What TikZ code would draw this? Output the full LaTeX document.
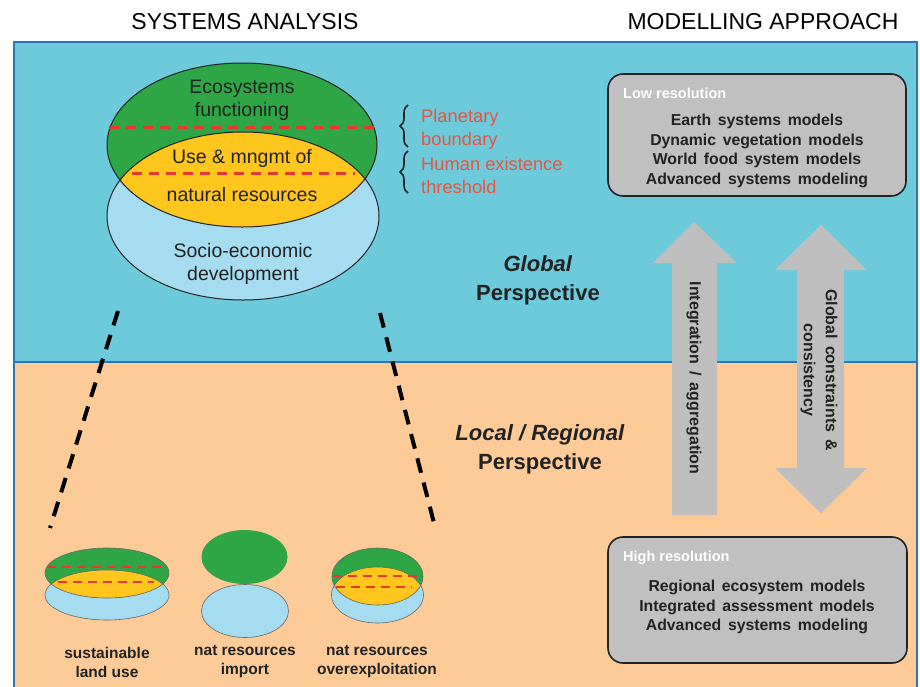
\documentclass[tikz,border=0pt]{standalone}
\usepackage{fontspec}
\setmainfont{Liberation Sans}
\usetikzlibrary{decorations.pathreplacing}
\definecolor{skyband}{HTML}{6DCADB}
\definecolor{peach}{HTML}{FCCB98}
\definecolor{frameblue}{HTML}{2F74B5}
\definecolor{ecogreen}{HTML}{2EA646}
\definecolor{useyellow}{HTML}{FFC61E}
\definecolor{socioblue}{HTML}{A5DCEF}
\definecolor{dashred}{HTML}{E8372C}
\definecolor{labelred}{HTML}{E5553F}
\definecolor{boxgray}{HTML}{C0C0C0}
\definecolor{arrowgray}{HTML}{BEBEBE}
\definecolor{inkdark}{HTML}{222222}
\newcommand{\fsz}[2]{\fontsize{#1}{#2}\selectfont}
\newcommand{\widesp}{\spaceskip=0.42em\relax}
\begin{document}
\begin{tikzpicture}[x=1pt,y=-1pt,
  hdr/.style={font=\fsz{23}{26}, text=black, inner sep=0},
  bigtxt/.style={font=\fsz{19.5}{23}, text=inkdark, align=center, inner sep=0},
  redtxt/.style={font=\fsz{18.3}{23}, text=labelred, align=left, inner sep=0, anchor=west},
  persp/.style={font=\fsz{22}{29}\bfseries, text=inkdark, align=center, inner sep=0},
  smalltxt/.style={font=\fsz{15.5}{19}\bfseries, text=inkdark, align=center, inner sep=0},
  listtxt/.style={font=\fsz{15.8}{19.5}\bfseries\widesp, text=inkdark, align=center, inner sep=0},
  titletxt/.style={font=\fsz{14.5}{16}\bfseries, text=white, anchor=west, inner sep=0},
  arrowtxt/.style={font=\fsz{16}{22}\bfseries, text=inkdark, align=center, inner sep=0, rotate=-90},
  resbox/.style={draw=inkdark, line width=1.6, fill=boxgray, rounded corners=15, inner sep=0},
  outline/.style={draw=inkdark, line width=1},
  thinoutline/.style={draw=gray!80!black, line width=0.6},
  reddash/.style={draw=dashred, line width=3, dash pattern=on 10 off 7},
  smallreddash/.style={draw=dashred, line width=2.8, dash pattern=on 9 off 6},
  zoomdash/.style={draw=black, line width=4, dash pattern=on 15 off 10},
  bracestyle/.style={draw=inkdark, line width=1.6, decorate, decoration={brace, amplitude=8}},
  blockarrow/.style={fill=arrowgray, draw=none}
]
\useasboundingbox (0,0) rectangle (920,686);
\fill[white] (0,0) rectangle (920,686);
% bands
\fill[skyband] (14,42) rectangle (917,362);
\fill[peach] (14,362) rectangle (917,690);
\draw[frameblue, line width=2.2] (14,690) -- (14,42) -- (917,42) -- (917,690);
\draw[frameblue, line width=2.2] (14,362) -- (917,362);

% headers
\node[hdr] (hdrL) at (245,22) {SYSTEMS ANALYSIS};
\node[hdr] (hdrR) at (763,22) {MODELLING APPROACH};

% big ellipses
\fill[socioblue] (243,216) ellipse [x radius=136, y radius=84];
\fill[ecogreen] (242,145) ellipse [x radius=135, y radius=82];
\begin{scope}
  \clip (242,145) ellipse [x radius=135, y radius=82];
  \fill[useyellow] (243,216) ellipse [x radius=136, y radius=84];
\end{scope}
\path[outline] (243,216) ellipse [x radius=136, y radius=84];
\path[outline] (242,145) ellipse [x radius=135, y radius=82];
\draw[reddash] (109,127) -- (375,127);
\draw[reddash] (132,173) -- (355,173);

\node[bigtxt] (eco) at (242,100) {Ecosystems\\functioning};
\node[bigtxt] (use) at (242,158) {Use \& mngmt of};
\node[bigtxt] (nat) at (242,195) {natural resources};
\node[bigtxt] (socio) at (243,264) {Socio-economic\\development};

% braces
\draw[bracestyle] (408,147) -- (408,105);
\draw[bracestyle] (408,193) -- (408,151);
\node[redtxt] (planet) at (421,129) {Planetary\\boundary};
\node[redtxt] (human) at (421,175) {Human existence\\threshold};

% perspective labels
\node[persp] (glob) at (538,280) {\textit{Global}\\Perspective};
\node[persp] (local) at (540,449) {\textit{Local / Regional}\\Perspective};

% zoom dashed lines
\coordinate (dlA) at (118,311);
\coordinate (dlB) at (50,528);
\coordinate (drA) at (380,313);
\coordinate (drB) at (435,527);
\draw[zoomdash] (dlA) -- (dlB);
\draw[zoomdash] (drA) -- (drB);

% small set 1: sustainable
\fill[socioblue] (107,595) ellipse [x radius=62, y radius=25];
\fill[ecogreen] (107,573) ellipse [x radius=62, y radius=25];
\begin{scope}
  \clip (107,573) ellipse [x radius=62, y radius=25];
  \fill[useyellow] (107,595) ellipse [x radius=62, y radius=25];
\end{scope}
\path[thinoutline] (107,595) ellipse [x radius=62, y radius=25];
\path[thinoutline] (107,573) ellipse [x radius=62, y radius=25];
\draw[smallreddash] (47,567) -- (167,567);
\draw[smallreddash] (58,582) -- (154,582);

% small set 2: import
\fill[ecogreen] (244.5,557) ellipse [x radius=43, y radius=27];
\fill[socioblue] (245,611) ellipse [x radius=43.5, y radius=26.5];
\path[thinoutline] (245,611) ellipse [x radius=43.5, y radius=26.5];

% small set 3: overexploitation
\fill[socioblue] (377.5,595) ellipse [x radius=46, y radius=28];
\fill[ecogreen] (377.5,576.5) ellipse [x radius=45.5, y radius=28.5];
\begin{scope}
  \clip (377.5,576.5) ellipse [x radius=45.5, y radius=28.5];
  \fill[useyellow] (377.5,595) ellipse [x radius=46, y radius=28];
\end{scope}
\path[thinoutline] (377.5,595) ellipse [x radius=46, y radius=28];
\path[thinoutline] (377.5,576.5) ellipse [x radius=45.5, y radius=28.5];
\draw[smallreddash] (333,576) -- (422,576);
\draw[smallreddash] (336,587) -- (412,587);

\node[smalltxt] (lab1) at (107,662) {sustainable\\land use};
\node[smalltxt] (lab2) at (245,662) {nat resources\\import};
\node[smalltxt] (lab3) at (377,662) {nat resources\\overexploitation};

% block arrows
\fill[blockarrow] (694,222) -- (737,263) -- (717,263) -- (717,515) -- (672,515) -- (672,263) -- (653,263) -- cycle;
\fill[blockarrow] (821,225) -- (867,270) -- (844,270) -- (844,468) -- (867,468) -- (821,513) -- (775,468) -- (797,468) -- (797,270) -- (775,270) -- cycle;
\node[arrowtxt] (intlab) at (694,378) {Integration \,/\, aggregation};
\node[arrowtxt] (glolab) at (819,370) {Global \,constraints \,\&\\consistency};

% resolution boxes
\node[resbox, minimum width=298, minimum height=122] (lowbox) at (757,135) {};
\node[titletxt] (lowtitle) at (623,93) {Low resolution};
\node[listtxt] (lowlist) at (757,151) {Earth systems models\\Dynamic vegetation models\\World food system models\\Advanced systems modeling};

\node[resbox, minimum width=299, minimum height=126] (highbox) at (757.5,600) {};
\node[titletxt] (hightitle) at (623,558) {High resolution};
\node[listtxt] (highlist) at (757,607) {Regional ecosystem models\\Integrated assessment models\\Advanced systems modeling};
\end{tikzpicture}
\end{document}
